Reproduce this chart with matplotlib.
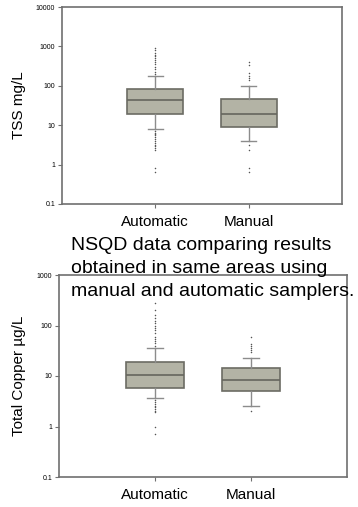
import matplotlib
matplotlib.use("Agg")
import matplotlib.pyplot as plt

plt.rcParams['font.family'] = ['Liberation Sans', 'DejaVu Sans']

# Sample groups shown on both panels
groups = ['Automatic', 'Manual']

# TSS (mg/L) box statistics
tss_q1 = [19, 9]
tss_med = [43, 19]
tss_q3 = [83, 46]
tss_whislo = [8, 4]
tss_whishi = [178, 100]
tss_fliers = [
    [200, 230, 260, 300, 350, 400, 450, 500, 560, 620, 700, 800, 920,
     7, 6.5, 6, 5.5, 5, 4.5, 4, 3.6, 3.2, 2.9, 2.6, 2.3, 0.82, 0.65],
    [140, 160, 180, 210, 340, 400, 3.2, 2.4, 0.82, 0.65],
]

# Total copper (ug/L) box statistics
cu_q1 = [5.9, 5.0]
cu_med = [10.7, 8.5]
cu_q3 = [19, 14.7]
cu_whislo = [3.6, 2.5]
cu_whishi = [36, 23]
cu_fliers = [
    [40, 45, 50, 55, 60, 70, 80, 90, 100, 110, 125, 140, 160, 200, 280,
     3.3, 3.0, 2.8, 2.6, 2.4, 2.2, 2.0, 1.9, 1.0, 0.72],
    [30, 33, 36, 40, 44, 60, 2.0],
]

tss_ticks = [0.1, 1, 10, 100, 1000, 10000]
tss_ticklabels = ['0.1', '1', '10', '100', '1000', '10000']
cu_ticks = [0.1, 1, 10, 100, 1000]
cu_ticklabels = ['0.1', '1', '10', '100', '1000']

BOX_FILL = '#b3b3a5'
BOX_EDGE = '#6c6c64'
SPINE = '#707070'


def make_stats(q1, med, q3, lo, hi, fliers):
    stats = []
    for i in range(len(q1)):
        stats.append(dict(q1=q1[i], med=med[i], q3=q3[i],
                          whislo=lo[i], whishi=hi[i], fliers=fliers[i]))
    return stats


def draw_panel(ax, stats, ticks, ticklabels, ylim):
    ax.bxp(stats, positions=[1, 2], widths=0.6, patch_artist=True,
           boxprops=dict(facecolor=BOX_FILL, edgecolor=BOX_EDGE, linewidth=1.2),
           medianprops=dict(color='#66665e', linewidth=1.2),
           whiskerprops=dict(color='#8c8c8c', linewidth=1),
           capprops=dict(color='#8c8c8c', linewidth=1),
           capwidths=0.16,
           flierprops=dict(marker='.', markersize=2.2, markerfacecolor='#555555',
                           markeredgecolor='none', linestyle='none'))
    ax.set_yscale('log')
    ax.set_ylim(*ylim)
    ax.set_xlim(0, 3)
    ax.set_yticks(ticks)
    ax.set_yticklabels(ticklabels)
    ax.minorticks_off()
    ax.tick_params(axis='y', labelsize=5, length=3, width=0.8, color=SPINE, pad=2)
    ax.tick_params(axis='x', labelsize=11, length=3, width=0.8, color=SPINE, pad=5)
    ax.set_xticks([1, 2])
    ax.set_xticklabels(groups)
    for s in ax.spines.values():
        s.set_color(SPINE)
        s.set_linewidth(1.2)
    ax.patch.set_alpha(0)


fig = plt.figure(figsize=(3.58, 5.07), dpi=100)

ax1 = fig.add_axes([62 / 358, 1 - 204 / 507, 280 / 358, 197 / 507])
draw_panel(ax1, make_stats(tss_q1, tss_med, tss_q3, tss_whislo, tss_whishi, tss_fliers),
           tss_ticks, tss_ticklabels, (0.1, 10000))

ax2 = fig.add_axes([59 / 358, 1 - 477 / 507, 288 / 358, 202 / 507])
draw_panel(ax2, make_stats(cu_q1, cu_med, cu_q3, cu_whislo, cu_whishi, cu_fliers),
           cu_ticks, cu_ticklabels, (0.1, 1000))

fig.text(19 / 358, 1 - 105 / 507, 'TSS mg/L', rotation=90, fontsize=11,
         ha='center', va='center')
fig.text(19 / 358, 1 - 376 / 507, 'Total Copper µg/L', rotation=90, fontsize=11,
         ha='center', va='center')

# caption sits over the gap and the top of the lower panel
caption = ['NSQD data comparing results',
           'obtained in same areas using',
           'manual and automatic samplers.']
baselines = [250, 273, 296]
for line, yb in zip(caption, baselines):
    fig.text(71 / 358, 1 - yb / 507, line, fontsize=14, ha='left', va='baseline')

fig.savefig('out.png', dpi=100)
